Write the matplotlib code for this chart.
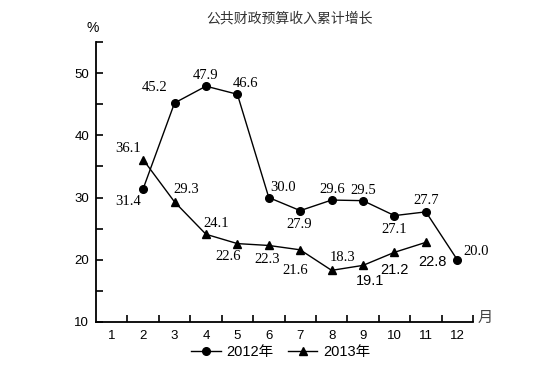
import matplotlib
matplotlib.use("Agg")
import matplotlib.pyplot as plt
from matplotlib.ticker import FixedLocator

months = list(range(1, 13))
months_2012 = [2, 3, 4, 5, 6, 7, 8, 9, 10, 11, 12]
values_2012 = [31.4, 45.2, 47.9, 46.6, 30.0, 27.9, 29.6, 29.5, 27.1, 27.7, 20.0]
months_2013 = [2, 3, 4, 5, 6, 7, 8, 9, 10, 11]
values_2013 = [36.1, 29.3, 24.1, 22.6, 22.3, 21.6, 18.3, 19.1, 21.2, 22.8]
title = "公共财政预算收入累计增长"
series_names = ["2012年", "2013年"]

# label offsets in pixels (dx, dy with y up)
off_2012 = [(-15, -13), (-20, 15), (0, 11), (8, 11), (14, 10), (-1, -14),
            (1, 11), (0, 10), (0, -14), (0, 11), (19, 8)]
off_2013 = [(-15, 11), (12, 12), (10, 11), (-9, -13), (-2, -14), (-5, -21),
            (11, 13), (7, -16), (0, -18), (7, -20)]
sans_2013 = {9, 10, 11}

fig = plt.figure(figsize=(5.53, 3.91), dpi=100)
W, H = 553, 391
left, right, top, bottom = 96, 473, 42, 322
ax = fig.add_axes([left / W, (H - bottom) / H, (right - left) / W, (bottom - top) / H])

ax.plot(months_2012, values_2012, color="black", lw=1.0, marker="o", ms=5.5,
        label=series_names[0])
ax.plot(months_2013, values_2013, color="black", lw=1.0, marker="^", ms=6,
        label=series_names[1])

ax.set_xlim(0.5, 12.5)
ax.set_ylim(10, 55)
for s in ["top", "right"]:
    ax.spines[s].set_visible(False)
for s in ["left", "bottom"]:
    ax.spines[s].set_linewidth(1.3)

ax.xaxis.set_major_locator(FixedLocator(months))
ax.xaxis.set_minor_locator(FixedLocator([m + 0.5 for m in months]))
ax.tick_params(axis="x", which="major", length=0, pad=6, labelsize=9.5)
ax.tick_params(axis="x", which="minor", direction="in", length=5, width=1.2)
ax.yaxis.set_major_locator(FixedLocator([10, 20, 30, 40, 50]))
ax.yaxis.set_minor_locator(FixedLocator([15, 25, 35, 45, 55]))
ax.tick_params(axis="y", which="both", direction="in", length=5, width=1.2, labelsize=9.5, pad=5)
for lab in ax.get_xticklabels() + ax.get_yticklabels():
    lab.set_family("Liberation Sans")

for m, v, (dx, dy) in zip(months_2012, values_2012, off_2012):
    ax.annotate(f"{v:.1f}", (m, v), xytext=(dx, dy), textcoords="offset pixels",
                ha="center", va="center", fontsize=10.5, family="Liberation Serif")
for m, v, (dx, dy) in zip(months_2013, values_2013, off_2013):
    is_sans = m in sans_2013
    ax.annotate(f"{v:.1f}", (m, v), xytext=(dx, dy), textcoords="offset pixels",
                ha="center", va="center", fontsize=10.5 if is_sans else 10.5,
                family="Liberation Sans" if is_sans else "Liberation Serif")

fig.text(290 / W, 1 - 18 / H, title, ha="center", va="center", fontsize=10,
         family=["Noto Sans CJK SC"], color="#333333")
fig.text(93 / W, 1 - 28 / H, "%", ha="center", va="center", fontsize=10,
         family="Liberation Sans")
fig.text(485 / W, 1 - 317 / H, "月", ha="center", va="center", fontsize=11,
         family=["Noto Sans CJK SC"], color="#444444")

leg = ax.legend(loc="center", bbox_to_anchor=(281 / W, 1 - 352 / H),
                bbox_transform=fig.transFigure, ncol=2, frameon=False,
                handlelength=2.0, handletextpad=0.4, columnspacing=1.0,
                prop={"family": ["Liberation Sans", "Noto Sans CJK SC"], "size": 10.5},
                borderpad=0, borderaxespad=0)

fig.savefig("out.png", dpi=100)
